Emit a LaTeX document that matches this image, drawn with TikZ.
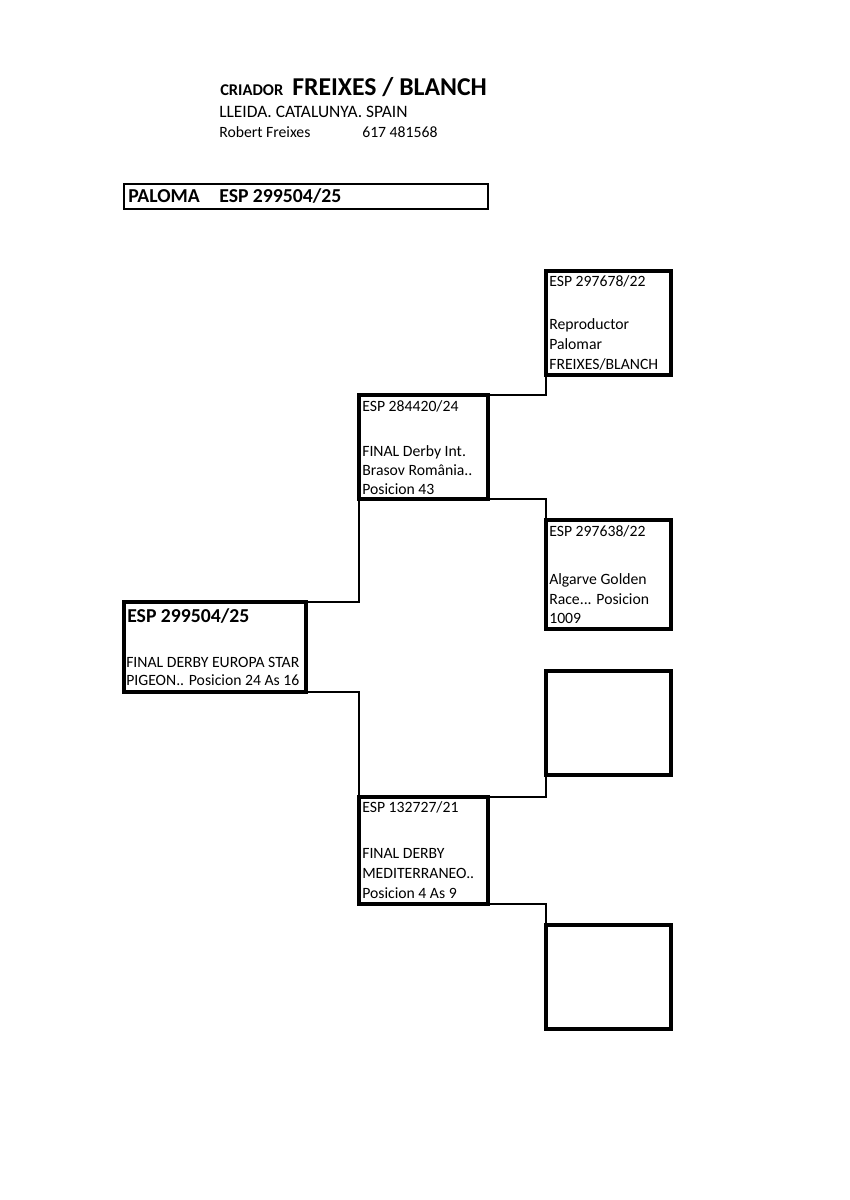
\documentclass[tikz,border=0pt]{standalone}
\usepackage{fontspec}
\setmainfont{Carlito}
\begin{document}
\begin{tikzpicture}[x=0.7pt,y=-0.7pt,
  box/.style={draw=black,line width=2.3pt,inner sep=0pt,outer sep=0pt,anchor=north west,
    minimum width=87.5pt,minimum height=72.8pt},
  conn/.style={draw=black,line width=0.75pt},
  txt/.style={anchor=base west,inner sep=0pt,font=\fontsize{11}{13}\selectfont},
  btxt/.style={anchor=base west,inner sep=0pt,font=\bfseries\fontsize{13.8}{15}\selectfont}]
\useasboundingbox (0,0) rectangle (849,1200);
% header
\node[anchor=base west,inner sep=0pt,font=\bfseries\fontsize{11.5}{13}\selectfont] (cri) at (220,95) {CRIADOR};
\node[anchor=base west,inner sep=0pt,font=\bfseries\fontsize{18}{20}\selectfont] (fb) at (292,95) {FREIXES / BLANCH};
\node[anchor=base west,inner sep=0pt,font=\fontsize{12.2}{14}\selectfont] (lle) at (219,117) {LLEIDA. CATALUNYA. SPAIN};
\node[txt] (rob) at (219,137) {Robert Freixes};
\node[txt] (tel) at (362,137) {617 481568};
\node[draw=black,line width=1.9pt,inner sep=0pt,outer sep=0pt,anchor=north west,
  minimum width=254.8pt,minimum height=17.5pt] (pal) at (124,184) {};
\node[btxt] (palt) at (128,202) {PALOMA\hspace{13.6pt}ESP 299504/25};
% boxes
\node[box,minimum width=127.4pt,minimum height=63pt] (m) at (124,602) {};
\node[box,minimum width=90.3pt,minimum height=72.8pt] (b1) at (359,395) {};
\node[box,minimum width=90.3pt,minimum height=74.9pt] (b2) at (359,797) {};
\node[box] (c1) at (546,271) {};
\node[box,minimum height=76.3pt] (c2) at (546,520) {};
\node[box] (c3) at (546,671) {};
\node[box] (c4) at (546,925) {};
% connectors
\draw[conn] (m.north east) -| (b1.south west);
\draw[conn] (m.south east) -| (b2.north west);
\draw[conn] (b1.north east) -| (c1.south west);
\draw[conn] (b1.south east) -| (c2.north west);
\draw[conn] (b2.north east) -| (c3.south west);
\draw[conn] (b2.south east) -| (c4.north west);
% main text
\node[btxt] (m1) at (127,622) {ESP 299504/25};
\node[txt] (m2) at (126,667) {FINAL DERBY EUROPA STAR};
\node[txt] (m3) at (126,685) {PIGEON.. Posicion 24 As 16};
% b1 text
\node[txt] (b1a) at (362,411) {ESP 284420/24};
\node[txt] (b1b) at (362,456) {FINAL Derby Int.};
\node[txt] (b1c) at (362,475) {Brasov România..};
\node[txt] (b1d) at (362,494) {Posicion 43};
% b2 text
\node[txt] (b2a) at (362,812) {ESP 132727/21};
\node[txt] (b2b) at (362,858) {FINAL DERBY};
\node[txt] (b2c) at (362,878) {MEDITERRANEO..};
\node[txt] (b2d) at (362,898) {Posicion 4 As 9};
% c1 text
\node[txt] (c1a) at (549,286) {ESP 297678/22};
\node[txt] (c1b) at (549,329) {Reproductor};
\node[txt] (c1c) at (549,349) {Palomar};
\node[txt] (c1d) at (549,369) {FREIXES/BLANCH};
% c2 text
\node[txt] (c2a) at (549,536) {ESP 297638/22};
\node[txt] (c2b) at (549,584) {Algarve Golden};
\node[txt] (c2c) at (549,604) {Race... Posicion};
\node[txt] (c2d) at (549,623) {1009};
\end{tikzpicture}
\end{document}
